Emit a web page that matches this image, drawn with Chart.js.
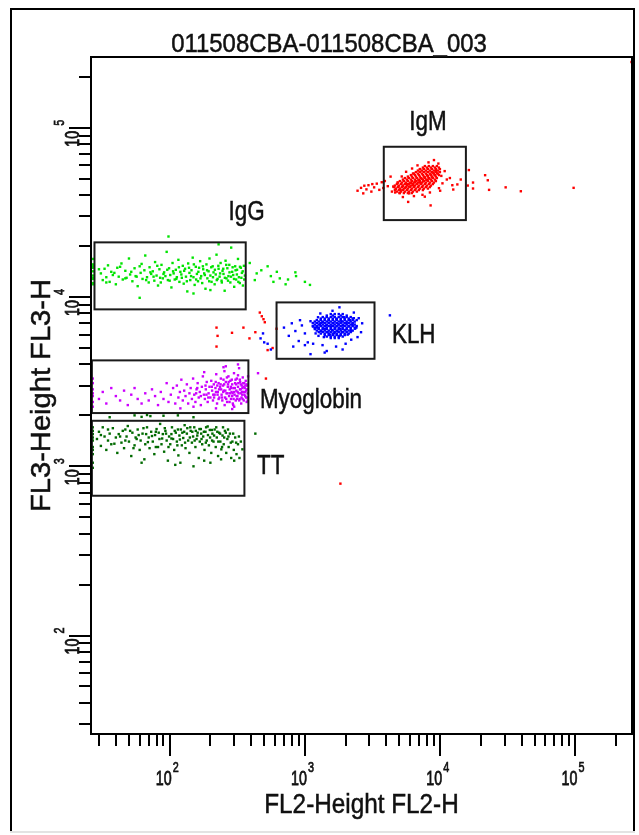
<!DOCTYPE html>
<html>
<head>
<meta charset="utf-8">
<script src="https://cdn.jsdelivr.net/npm/chart.js@4.4.1/dist/chart.umd.min.js"></script>
<style>
  html, body { margin: 0; padding: 0; background: #fff; }
  #wrap { width: 639px; height: 835px; }
</style>
</head>
<body>
<div id="wrap"><canvas id="dotPlot" width="639" height="835"></canvas></div>
<script>
// axis range of the cytometer channels
const axisMin = 26.2;
const axisMax = 262144;
const decadeTicks = [100, 1000, 10000, 100000];
const decadeExp = ["2", "3", "4", "5"];

const plotTitle = "011508CBA-011508CBA_003";
const xTitle = "FL2-Height FL2-H";
const yTitle = "FL3-Height FL3-H";

// events, [FL2-H, FL3-H]
const iggEvents = [
  [27,14200],[27,12800],[27,15600],[27,11900],[27,13400],[27,16800],[27,12100],[27,14900],[27,13000],[27,15200],
  [31,13800],[32,12600],[33,14700],[34,13100],[35,15400],[36,12300],[37,14100],[38,13500],[40,11900],[41,14900],
  [42,13200],[44,15800],[45,12700],[47,14300],[48,13000],[50,16900],[51,13600],[53,12400],[55,14800],[56,13300],
  [58,11600],[60,15200],[61,13900],[63,12800],[65,14400],[66,17600],[68,13100],[70,12200],[71,15000],[73,13700],
  [75,14200],[77,12500],[78,16100],[80,13400],[82,11700],[84,14600],[85,13000],[87,15500],[89,12900],[91,14000],
  [93,13300],[95,18500],[97,12600],[99,14800],[101,13500],[103,11400],[105,15900],[107,13800],[109,12700],[111,14500],
  [113,13100],[116,16600],[118,12300],[120,14100],[122,13600],[125,15300],[127,12000],[130,14700],[132,13200],[135,10800],
  [137,15800],[140,13900],[142,12600],[145,14400],[148,17100],[150,13100],[153,11800],[156,15100],[159,13700],[162,12400],
  [165,14900],[168,16300],[171,13300],[174,12100],[177,14600],[180,13800],[184,11200],[187,15600],[190,12900],[194,14200],
  [197,16900],[200,13400],[204,12300],[208,15200],[211,14000],[215,11900],[219,13600],[222,17800],[226,12800],[230,14700],
  [234,13200],[238,15900],[242,12500],[246,14300],[250,13700],[255,10900],[259,16400],[263,12900],[267,14800],[272,13300],
  [276,15500],[281,12200],[285,19600],[290,14100],[295,13500],[300,11500],[305,15200],[310,12700],[315,14500],[320,16800],
  [325,13100],[330,12100],[336,14900],[342,13900],[348,11700],[354,15300],[360,13400],
  [30,14600],[34,12200],[39,13900],[43,15100],[47,12900],[52,14100],[57,13200],[62,15700],[67,12600],[72,14000],
  [76,13200],[81,15300],[86,12200],[90,13700],[96,14500],[100,12500],[106,14200],[112,12800],[117,15000],[123,13000],
  [128,14300],[134,12400],[139,14900],[144,13300],[151,15600],[157,12700],[163,14100],[169,12900],[176,15200],[182,13500],
  [189,14400],[196,12400],[203,15000],[209,13100],[216,14500],[223,12600],[229,15300],[236,13800],[243,12200],[249,14700],
  [256,13000],[262,15500],[270,12500],[277,14000],[284,13200],[292,15000],[299,12800],[307,14400],[314,13600],[322,12300],
  [331,15100],[339,13000],[347,14200],[356,12700],
  [60,9900],[98,22800],[230,20500],[200,11000],[150,10500],
  [391,15900],[426,12600],[440,13800],[476,14400],[530,15200],[560,13300],[585,12300],[620,14100],[652,12900],
  [720,11900],[750,12700],[850,14000],[860,13300],[1000,12300],[1090,11800]
];

const myoEvents = [
  [27,3100],[27,2850],[27,2600],[27,2400],[27,3300],[27,2250],[27,2700],
  [30,2500],[32,2750],[34,2350],[37,2900],[40,2600],[43,2450],[46,2800],[49,2300],[52,2650],[55,2900],
  [58,2500],[62,2350],[66,2700],[70,2450],[74,2850],[78,2600],[82,2300],[86,2750],[90,2500],[95,3100],[98,2400],
  [102,2650],[106,2900],[110,2350],[113,3000],[116,2550],[119,2750],[122,3250],[125,2450],[128,2800],[131,2600],
  [134,3050],[137,2350],[140,2700],[143,2900],[146,2500],[149,3300],[152,2650],[155,2400],[158,2850],[161,3100],
  [164,2550],[167,2750],[170,2300],[173,2950],[176,3400],[179,2650],[182,2500],[185,2850],[188,3150],[191,2400],
  [194,2700],[197,2950],[200,2550],
  [203,3200],[206,2800],[209,2450],[212,3050],[215,2650],[218,2900],[221,3500],[224,2350],[227,2750],[230,3100],
  [233,2550],[236,2950],[239,3300],[242,2650],[245,2450],[248,3000],[251,2800],[254,3650],[257,2550],[260,3150],
  [263,2700],[266,2400],[269,2950],[272,3400],[275,2600],[278,2850],[281,3200],[284,2500],[287,2750],[290,3050],
  [293,2350],[296,2900],[299,3550],[302,2650],[305,3100],[308,2450],[311,2800],[314,3300],[317,2600],[320,2950],
  [323,2700],[326,3800],[329,2500],[332,3150],[335,2850],[338,2350],[341,3000],[344,2650],[347,3350],[350,2750],
  [353,2450],[356,3100],[359,2900],[362,2600],[365,3200],[368,2800],[371,2400],[374,3000],[377,2700],[380,3400],
  [210,2650],[225,3000],[240,2850],[255,2300],[270,3050],[285,2900],[300,2750],[315,2500],[330,3250],[345,2900],
  [360,2750],[375,2550],[220,2750],[250,3250],[280,2700],[310,3050],[340,2550],[370,3050],[230,2500],[290,2600],
  [320,3450],[350,3100],[265,3350],[295,2300],[335,2700],[180,3600],[120,2200],[260,3900],[300,2250],[150,2250],
  [205,2950],[213,2550],[219,3150],[226,2650],[232,2850],[238,3050],[244,2550],[249,2750],[253,3050],[258,2800],
  [262,2500],[268,2700],[273,3150],[277,2400],[283,2950],[288,3250],[292,2700],[297,2500],[303,2900],[307,3250],
  [312,2600],[318,2750],[322,3100],[327,2450],[331,2850],[336,3050],[342,2750],[346,2500],[352,2950],[357,2650],
  [363,3000],[367,2550],[373,2850],[378,2450],[160,2900],[170,2600],[184,3000],[193,2550],[157,2700],[187,2650],
  [320,4000],[250,3850],[290,2180],[220,2200],[450,3550]
];

const ttEvents = [
  [27,1700],[27,1550],[27,1420],[27,1300],[27,1180],[27,1050],[27,1620],[27,1480],[27,1250],[27,980],
  [29,1450],[30,1600],[31,1320],[32,1700],[33,1500],[34,1250],[35,1420],[36,1560],[37,1350],[38,1680],
  [40,1480],[41,1200],[42,1550],[44,1380],[45,1620],[46,1280],[48,1500],[49,1730],[50,1400],[52,1150],
  [53,1580],[55,1330],[56,1480],[58,1650],[60,1250],[61,1420],[63,1560],[65,1100],[66,1350],[68,1700],
  [70,1480],[71,1280],[73,1600],[75,1400],[77,1180],[78,1530],[80,1660],[82,1300],[84,1450],[85,1780],
  [87,1350],[89,1550],[91,1220],[93,1620],[95,1420],[97,1080],[99,1500],[101,1350],[104,1700],[106,1450],
  [108,1250],[111,1580],[113,1400],[116,1160],[118,1520],[121,1650],[123,1330],[126,1470],[129,1750],[131,1280],
  [134,1560],[137,1420],[140,1200],[143,1620],[146,1380],[149,1500],[152,1700],[155,1300],[158,1450],[161,1580],
  [164,1120],[167,1400],[170,1660],[174,1350],[177,1500],[181,1250],[184,1600],[188,1420],[191,1720],[195,1330],
  [199,1480],[203,1200],[207,1560],[211,1400],[215,1650],[219,1300],[223,1480],[228,1150],[232,1580],[237,1400],
  [241,1260],[246,1520],[251,1350],[256,1620],[262,1200],[267,1450],[273,1300],[279,1560],[285,1120],[291,1400],
  [298,1250],[305,1480],[312,1180],[320,1350],[328,1120],[336,1400],[345,1260],
  [47,1650],[57,1450],[67,1550],[79,1600],[92,1680],[103,1550],[115,1650],[128,1600],[142,1700],[156,1620],
  [171,1560],[186,1700],[205,1640],[225,1600],[248,1700],[270,1650],[62,1050],[120,1050],[180,1080],[240,1100],
  [300,1080],[150,1000],[110,1020],[200,1050],
  [31,1530],[35,1650],[39,1360],[43,1500],[47,1420],[51,1620],[54,1280],[59,1530],[64,1680],[69,1390],
  [74,1510],[79,1300],[83,1580],[88,1460],[94,1560],[98,1300],[103,1460],[109,1620],[114,1330],[119,1440],
  [124,1580],[130,1380],[135,1680],[141,1480],[147,1600],[153,1420],[160,1520],[166,1660],[172,1450],[179,1600],
  [185,1380],[192,1530],[198,1640],[206,1420],[213,1520],[221,1700],[229,1400],[236,1560],[244,1300],[253,1480],
  [260,1580],[272,1500],[283,1380],[295,1560],[310,1380],[325,1500],
  [36,1950],[55,2000],[62,1960],[68,2010],[72,1980],[90,1990],[115,2000],[150,1950],[430,1560]
];

const klhEvents = [
  [1200,6100],[1230,6600],[1260,5900],[1290,6900],[1320,6300],[1350,7100],[1380,5800],[1410,6500],[1440,6800],[1470,6200],
  [1500,7300],[1530,6000],[1560,6700],[1590,6400],[1620,7000],[1650,6100],[1680,6600],[1710,7400],[1740,6300],[1770,6900],
  [1800,5900],[1830,6500],[1860,7200],[1890,6200],[1920,6800],[1950,7600],[1990,6400],[2030,7000],[2070,6000],[2110,6700],
  [2150,7300],[2200,6300],[2250,6900],[2300,7500],[2350,6500],
  [700,6600],[760,5900],[800,7000],[850,6300],[900,5500],[950,6800],[1000,6100],[1050,5400],[1100,7200],[1150,6700],
  [1000,5200],[920,7300],[1150,5300],[1250,7600],[1350,5200],[1450,4800],[1300,8000],[1600,8300],[1800,8700],[1700,5100],
  [2000,5300],[2200,5600],[2400,6600],[2500,7500],[2650,7000],[2600,6200],[2450,5800],[2300,8100],[1400,4700],[1900,4900],
  [820,5100],[1100,4600],
  [470,5700],[500,5400],[530,5300],[560,4900],[490,6100],[4250,7800]
];

// the packed middle of the KLH cloud
const klhCoreEvents = [
  [1553,7935],[1662,7935],[1779,7935],[1904,7935],
  [1451,7775],[1607,7775],[1841,7775],[2038,7775],
  [1355,7618],[1451,7618],[1553,7618],[1662,7618],[1779,7618],[1904,7618],[2038,7618],[2182,7618],
  [1310,7464],[1402,7464],[1501,7464],[1607,7464],[1720,7464],[1841,7464],[1970,7464],[2109,7464],[2257,7464],
  [1224,7313],[1310,7313],[1402,7313],[1501,7313],[1607,7313],[1720,7313],[1841,7313],[1970,7313],[2109,7313],[2257,7313],[2416,7313],
  [1183,7166],[1266,7166],[1355,7166],[1451,7166],[1553,7166],[1662,7166],[1779,7166],[1904,7166],[2038,7166],[2182,7166],[2335,7166],
  [1143,7022],[1224,7022],[1310,7022],[1402,7022],[1501,7022],[1607,7022],[1720,7022],[1841,7022],[1970,7022],[2109,7022],[2257,7022],
  [1183,6880],[1266,6880],[1355,6880],[1451,6880],[1553,6880],[1662,6880],[1779,6880],[1904,6880],[2038,6880],[2182,6880],[2335,6880],
  [1143,6741],[1224,6741],[1310,6741],[1402,6741],[1501,6741],[1607,6741],[1720,6741],[1841,6741],[1970,6741],[2109,6741],[2257,6741],[2416,6741],
  [1183,6605],[1266,6605],[1355,6605],[1451,6605],[1553,6605],[1662,6605],[1779,6605],[1904,6605],[2038,6605],[2182,6605],[2335,6605],
  [1183,6471],[1266,6471],[1355,6471],[1451,6471],[1553,6471],[1662,6471],[1779,6471],[1904,6471],[2038,6471],[2182,6471],
  [1224,6341],[1310,6341],[1402,6341],[1501,6341],[1607,6341],[1720,6341],[1841,6341],[1970,6341],[2109,6341],[2257,6341],
  [1266,6213],[1355,6213],[1451,6213],[1553,6213],[1662,6213],[1779,6213],[1904,6213],[2038,6213],[2182,6213],
  [1310,6087],[1402,6087],[1501,6087],[1607,6087],[1720,6087],[1841,6087],[1970,6087],[2109,6087],
  [1402,5964],[1501,5964],[1607,5964],[1720,5964],[1841,5964],[1970,5964],
  [1451,5844],[1553,5844],[1662,5844],[1779,5844],[1904,5844],
  [1553,5726],[1662,5726],[1779,5726]
];

const igmEvents = [
  [4700,43500],[4900,44800],[5100,43000],[5300,45500],[5500,44200],[5700,46500],[5900,45000],[6100,47200],[6300,45800],[6500,48000],
  [6700,46600],[6900,49000],[7100,47500],[7300,50000],[7500,48300],[7700,51000],[7900,49200],[8100,52000],[8300,50100],[8500,53000],
  [8700,51200],[8900,54000],[9100,52500],[9300,55500],[9500,53800],
  [4500,45000],[4650,41500],[5000,41200],[5900,41000],[6300,53700],[4850,47500],
  [3900,48500],[4100,45200],[4300,51500],[4400,42000],[5200,51600],[5600,55000],[6200,57500],[7100,57000],[8200,62500],[9000,64500],
  [9700,61500],[10200,52000],[10400,47000],[10800,55500],[11200,49500],[9800,44000],[8400,41500],[7400,40200],[6400,39500],[5300,39000],
  [11800,50500],[12300,45800],[10000,42500],[6800,60000],[7700,39200],[5800,36500],[8500,34800],
  [2450,42500],[2600,44200],[2700,41000],[2850,43300],[2950,45800],[3100,42000],[3250,44500],[3400,46800],[3550,43000],[3700,47700],
  [3800,44100],[3150,46500],[2750,45500],
  [12500,43200],[13400,46300],[14200,49500],[16000,45600],[17500,43800],[21500,52500],[22500,49000],[30500,44500],[39500,42200],
  [97000,44200],[16300,56300],[17500,47500],[23000,43000]
];

// the packed middle of the IgM cloud
const igmCoreEvents = [
  [7712,59430],[8255,59430],[8837,59430],[9460,59430],
  [7453,58220],[7979,58220],[8541,58220],[9144,58220],[9788,58220],
  [7082,57050],[7580,57050],[8113,57050],[8688,57050],[9299,57050],[9957,57050],
  [6844,55890],[7327,55890],[7842,55890],[8397,55890],[8988,55890],[9620,55890],
  [6615,54770],[7082,54770],[7580,54770],[8113,54770],[8688,54770],[9299,54770],[9957,54770],
  [6394,53660],[6844,53660],[7327,53660],[7842,53660],[8397,53660],[8988,53660],[9620,53660],
  [6075,52570],[6504,52570],[6962,52570],[7453,52570],[7979,52570],[8541,52570],[9144,52570],[9788,52570],
  [5770,51520],[6180,51520],[6615,51520],[7082,51520],[7580,51520],[8113,51520],[8688,51520],[9299,51520],
  [5484,50480],[5871,50480],[6286,50480],[6729,50480],[7204,50480],[7712,50480],[8255,50480],[8837,50480],[9460,50480],
  [5301,49460],[5673,49460],[6075,49460],[6504,49460],[6962,49460],[7453,49460],[7979,49460],[8541,49460],[9144,49460],
  [5037,48450],[5391,48450],[5770,48450],[6180,48450],[6615,48450],[7082,48450],[7580,48450],[8113,48450],[8688,48450],[9299,48450],
  [4868,47480],[5211,47480],[5577,47480],[5973,47480],[6394,47480],[6844,47480],[7327,47480],[7842,47480],[8397,47480],[8988,47480],
  [4786,46520],[5124,46520],[5484,46520],[5871,46520],[6286,46520],[6729,46520],[7204,46520],[7712,46520],[8255,46520],[8837,46520],
  [4626,45580],[4952,45580],[5301,45580],[5673,45580],[6075,45580],[6504,45580],[6962,45580],[7453,45580],[7979,45580],[8541,45580],
  [4548,44660],[4868,44660],[5211,44660],[5577,44660],[5973,44660],[6394,44660],[6844,44660],[7327,44660],[7842,44660],[8397,44660],
  [4704,43770],[5037,43770],[5391,43770],[5770,43770],[6180,43770],[6615,43770],[7082,43770],[7580,43770],[8113,43770],
  [4626,42880],[4952,42880],[5301,42880],[5673,42880],[6075,42880],[6504,42880],[6962,42880],[7453,42880],
  [4786,42020],[5124,42020],[5484,42020],[5871,42020],[6286,42020],[6729,42020],
  [5037,41160],[5391,41160],[5770,41160],[6180,41160]
];

const strayEvents = [
  [222,6600],[226,5900],[222,5100],[289,6150],[351,6600],[389,5700],[430,6200],[464,8100],[480,7700],[494,7400],
  [505,7100],[530,4860],[577,5000],[617,6500],[515,3300],[1830,790],[260000,245000]
];

// gates: [FL2 low, FL2 high, FL3 low, FL3 high]
const gateNames = ["IgG", "IgM", "KLH", "Myoglobin", "TT"];
const gateBounds = [
  [27.8, 365, 8460, 21050],
  [3830, 15500, 28500, 77300],
  [617, 3270, 4318, 9300],
  [26.6, 382, 2064, 4226],
  [26.6, 357, 670, 1858]
];
// where each gate name sits, in axis units, and its alignment
const gateLabelAt = [
  [370, 28500, "center"],
  [8120, 97000, "center"],
  [4400, 5350, "left"],
  [465, 2210, "left"],
  [442, 900, "left"]
];

const FONT = '"Liberation Sans", Arial, sans-serif';

function drawText(g, str, x, y, size, sx, align, rotated, weight) {
  g.save();
  g.translate(x, y);
  if (rotated) g.rotate(-Math.PI / 2);
  g.scale(sx, 1);
  g.font = size + "px " + FONT;
  g.fillStyle = "#111";
  g.strokeStyle = "#111";
  g.lineWidth = weight || 0.5;
  g.textAlign = align;
  g.textBaseline = "alphabetic";
  g.fillText(str, 0, 0);
  g.strokeText(str, 0, 0);
  g.restore();
}

function logTicks() {
  const out = [];
  for (let d = 1; d <= 5; d++) {
    for (let m = 1; m <= 9; m++) {
      const v = m * Math.pow(10, d);
      if (v >= axisMin && v <= axisMax) out.push({ v: v, len: m === 1 ? 22 : 12 });
    }
  }
  return out;
}

const facsPlugin = {
  id: "facs",
  beforeDraw(chart) {
    const g = chart.ctx;
    g.save();
    g.fillStyle = "#fff";
    g.fillRect(0, 0, chart.width, chart.height);
    // outer frame
    g.fillStyle = "#000";
    g.fillRect(10, 8, 2, 824);
    g.fillRect(10, 8, 625, 2);
    g.fillRect(633, 8, 2, 824);
    g.fillStyle = "#e3e3e3";
    g.fillRect(10, 831, 625, 2);
    g.restore();
  },
  afterDraw(chart) {
    const g = chart.ctx;
    const xs = chart.scales.x;
    const ys = chart.scales.y;
    const a = chart.chartArea;

    g.save();
    // gates
    g.strokeStyle = "#1a1a1a";
    g.lineWidth = 2;
    gateBounds.forEach(function (b) {
      const x1 = xs.getPixelForValue(b[0]);
      const x2 = xs.getPixelForValue(b[1]);
      const y1 = ys.getPixelForValue(b[3]);
      const y2 = ys.getPixelForValue(b[2]);
      g.strokeRect(x1, y1, x2 - x1, y2 - y1);
    });
    gateNames.forEach(function (name, i) {
      const p = gateLabelAt[i];
      drawText(g, name, xs.getPixelForValue(p[0]), ys.getPixelForValue(p[1]), 27, 0.83, p[2], false);
    });

    // plot border
    g.strokeStyle = "#000";
    g.lineWidth = 2;
    g.strokeRect(a.left, a.top, a.right - a.left, a.bottom - a.top);

    // log ticks outside the plot
    const ticks = logTicks();
    g.fillStyle = "#000";
    ticks.forEach(function (t) {
      const px = Math.round(xs.getPixelForValue(t.v));
      g.fillRect(px - 1, a.bottom, 2, t.len);
      const py = Math.round(ys.getPixelForValue(t.v));
      g.fillRect(a.left - t.len, py - 1, t.len, 2);
    });

    decadeTicks.forEach(function (v, i) {
      const px = xs.getPixelForValue(v);
      drawText(g, "10", px + 2, 785, 21, 0.68, "right", false, 0.8);
      drawText(g, decadeExp[i], px + 3, 772, 15, 0.72, "left", false, 0.7);
      const py = ys.getPixelForValue(v);
      drawText(g, "10", 79, py + 3, 21, 0.68, "right", true, 0.8);
      drawText(g, decadeExp[i], 64, py - 2, 15, 0.72, "left", true, 0.7);
    });

    // titles
    drawText(g, plotTitle, 329, 52, 26, 0.92, "center", false);
    drawText(g, xTitle, (a.left + a.right) / 2, 813, 27, 0.9, "center", false);
    drawText(g, yTitle, 50, (a.top + a.bottom) / 2, 28, 1.04, "center", true);
    g.restore();
  }
};

function toPoints(list) {
  return list.map((e) => ({ x: e[0], y: e[1] }));
}

function population(label, list, color) {
  return {
    label: label,
    data: toPoints(list),
    backgroundColor: color,
    pointStyle: "rect",
    pointRadius: 1.7,
    pointBorderWidth: 0,
    pointHoverRadius: 0
  };
}

const dotPlot = new Chart(document.getElementById("dotPlot"), {
  type: "scatter",
  data: {
    datasets: [
      population("IgM", igmEvents.concat(igmCoreEvents), "#ff0000"),
      population("KLH", klhEvents.concat(klhCoreEvents), "#0000ff"),
      population("stray", strayEvents, "#ff0000"),
      population("IgG", iggEvents, "#00e400"),
      population("Myoglobin", myoEvents, "#cc00ff"),
      population("TT", ttEvents, "#006a00")
    ]
  },
  options: {
    responsive: false,
    animation: false,
    events: [],
    devicePixelRatio: 1,
    layout: { padding: { left: 91, top: 57, right: 7, bottom: 101 } },
    plugins: {
      legend: { display: false },
      tooltip: { enabled: false },
      title: { display: false }
    },
    scales: {
      x: { type: "logarithmic", min: axisMin, max: axisMax, display: false },
      y: { type: "logarithmic", min: axisMin, max: axisMax, display: false }
    }
  },
  plugins: [facsPlugin]
});
</script>
</body>
</html>
